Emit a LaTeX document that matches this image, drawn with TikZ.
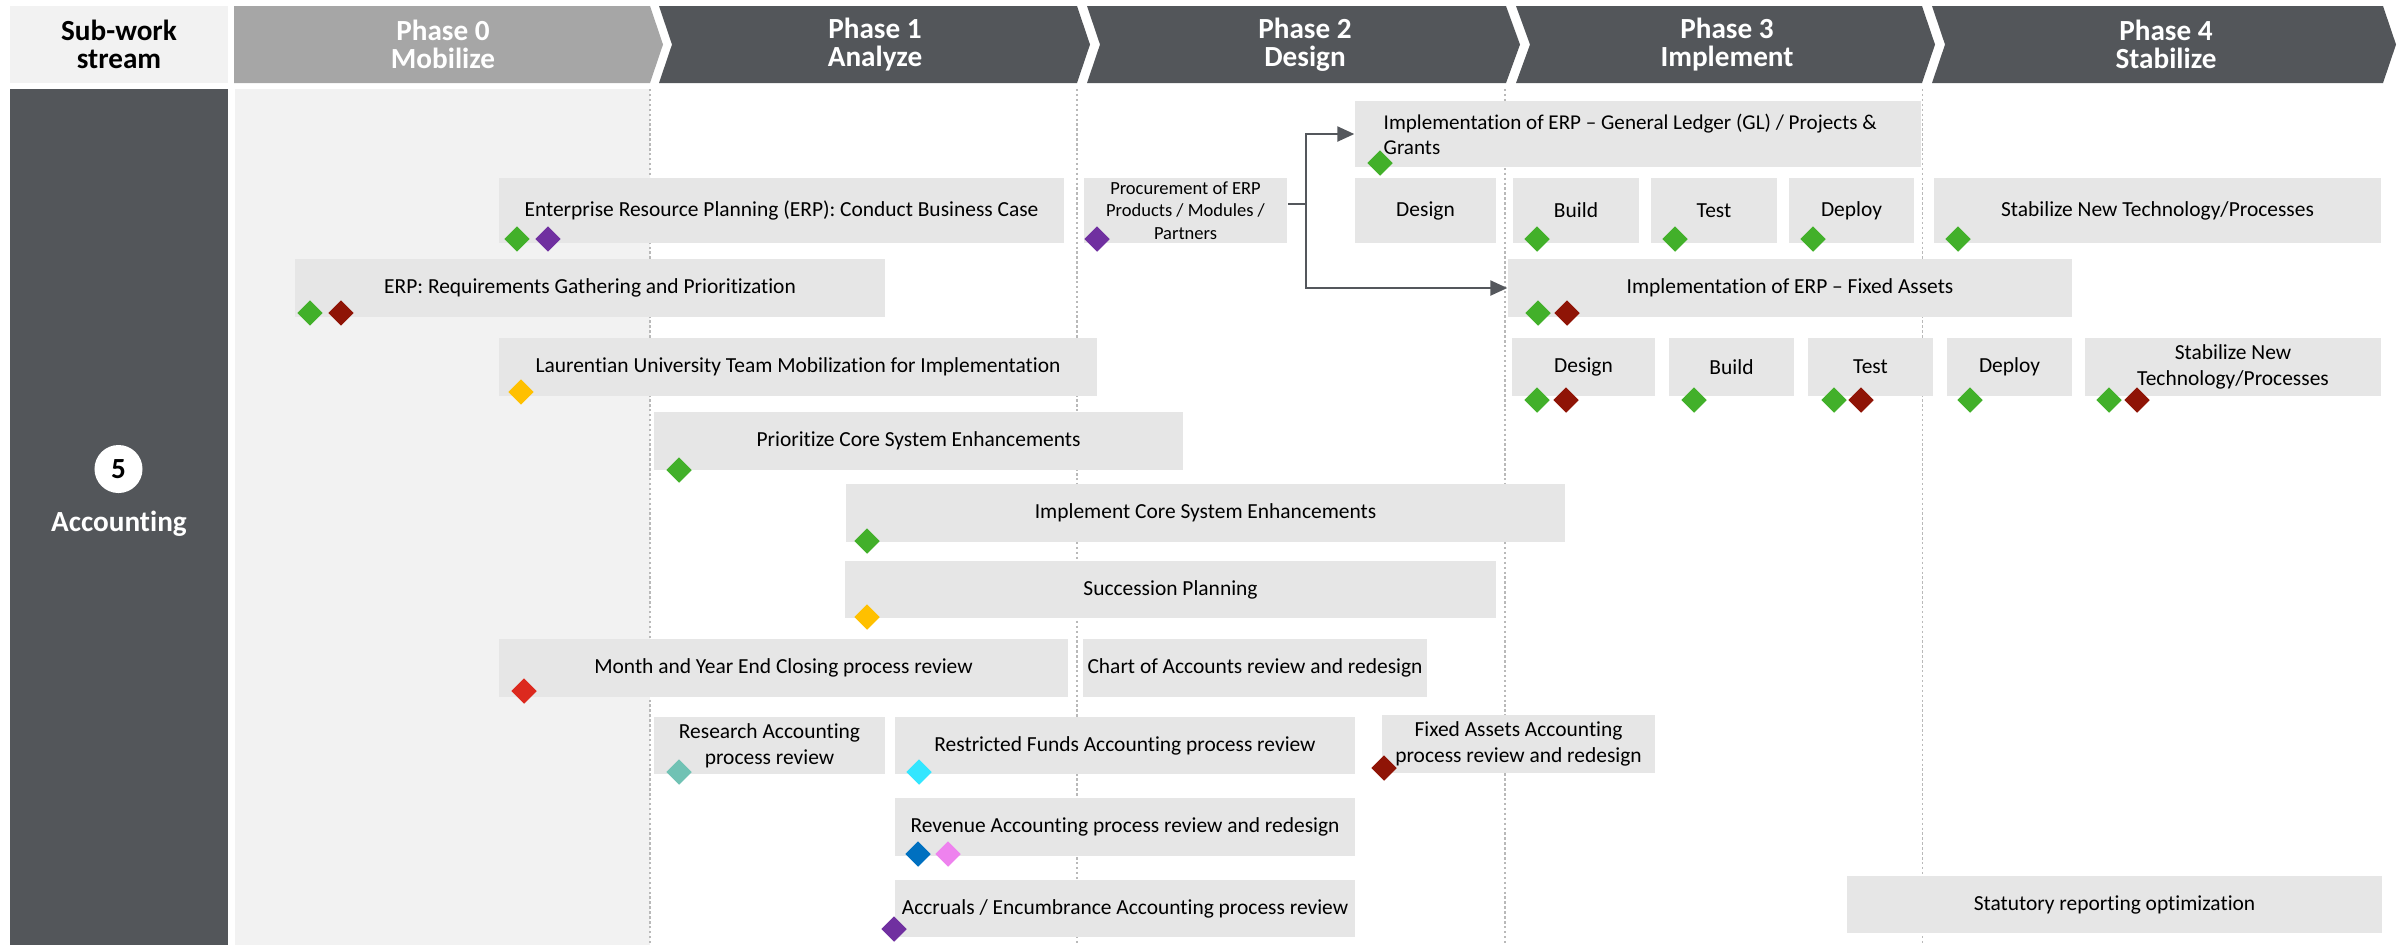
\documentclass[tikz,border=0pt]{standalone}
\usepackage{fontspec}
\setmainfont{Carlito}[Ligatures=NoCommon]
\usetikzlibrary{shapes.geometric,arrows.meta}
\definecolor{dark}{RGB}{83,86,90}
\definecolor{phasezero}{RGB}{166,166,166}
\definecolor{lightbg}{RGB}{242,242,242}
\definecolor{taskfill}{RGB}{230,230,230}
\definecolor{dgreen}{RGB}{66,176,42}
\definecolor{dpurple}{RGB}{112,48,160}
\definecolor{dmaroon}{RGB}{143,20,6}
\definecolor{dyellow}{RGB}{255,192,0}
\definecolor{dred}{RGB}{220,41,30}
\definecolor{dteal}{RGB}{112,194,180}
\definecolor{dcyan}{RGB}{51,230,255}
\definecolor{dblue}{RGB}{0,112,192}
\definecolor{dpink}{RGB}{238,130,238}
\definecolor{conncol}{RGB}{84,87,92}
\definecolor{gridcol}{RGB}{185,185,185}
\tikzset{
  task/.style={fill=taskfill, inner sep=0pt, align=center, font=\fontsize{6.1}{7.5}\selectfont, text=black},
  ms/.style={diamond, aspect=1, minimum width=0.26cm, minimum height=0.26cm, inner sep=0pt, fill=#1},
  phasetxt/.style={font=\fontsize{8.3}{8.1}\selectfont\bfseries, text=white, align=center},
  conn/.style={draw=conncol, line width=0.65pt},
  gridline/.style={draw=gridcol, line width=0.3pt, dash pattern=on 0.7pt off 0.7pt},
  tip/.style={-{Triangle[length=0.17cm,width=0.15cm]}},
}
\newcommand\taskbox[6]{\node[task, minimum width={(#4-#2)*0.01cm}, minimum height={(#5-#3)*0.01cm}] (#1) at ({(#2+#4)/2},{(#3+#5)/2}) {#6};}
\begin{document}
\begin{tikzpicture}[x=0.01cm,y=-0.01cm]
\useasboundingbox (0,0) rectangle (2397,947);
% backgrounds
\fill[dark] (10,89) rectangle (228,945);
\fill[lightbg] (235,89) rectangle (650,945);
\foreach \gx in {650,1077,1505,1922} \draw[gridline] (\gx,89) -- (\gx,945);
% header
\node[fill=lightbg, minimum width=2.18cm, minimum height=0.77cm, inner sep=0pt, font=\fontsize{8.3}{8.1}\selectfont\bfseries, align=center] (sws) at (119,44.5) {Sub-work\\stream};
\fill[phasezero] (234,6) -- (650,6) -- (663,44.5) -- (650,83) -- (234,83) -- cycle;
\fill[dark] (659,6) -- (1077,6) -- (1090,44.5) -- (1077,83) -- (659,83) -- (672,44.5) -- cycle;
\fill[dark] (1087,6) -- (1506,6) -- (1520,44.5) -- (1506,83) -- (1087,83) -- (1100,44.5) -- cycle;
\fill[dark] (1516,6) -- (1922,6) -- (1935,44.5) -- (1922,83) -- (1516,83) -- (1530,44.5) -- cycle;
\fill[dark] (1932,6) -- (2383,6) -- (2396,44.5) -- (2383,83) -- (1932,83) -- (1945,44.5) -- cycle;
\node[phasetxt] (p0) at (443,44.5) {Phase 0\\Mobilize};
\node[phasetxt] (p1) at (875,44.5) {Phase 1\\Analyze};
\node[phasetxt] (p2) at (1305,44.5) {Phase 2\\Design};
\node[phasetxt] (p3) at (1727,44.5) {Phase 3\\Implement};
\node[phasetxt] (p4) at (2166,44.5) {Phase 4\\Stabilize};
% lane label
\node[circle, fill=white, minimum size=0.48cm, inner sep=0pt, font=\fontsize{8.3}{9}\selectfont\bfseries] (num) at (118.5,469) {5};
\node[font=\fontsize{8.3}{9}\selectfont\bfseries, text=white] (acc) at (119,524) {Accounting};
% tasks
\taskbox{gl}{1355}{101}{1921}{167}{}
\node[anchor=west, align=left, inner sep=0pt, font=\fontsize{6}{7.2}\selectfont] (gltxt) at (1383,134.5) {Implementation of ERP – General Ledger (GL) / Projects \&\\Grants};
\taskbox{erp}{499}{178}{1064}{243}{Enterprise Resource Planning (ERP): Conduct Business Case}
\node[task, font=\fontsize{5.26}{6.4}\selectfont, minimum width=2.03cm, minimum height=0.65cm] (proc) at (1185.5,210.5) {Procurement of ERP\\Products / Modules /\\Partners};
\taskbox{des1}{1355}{178}{1496}{243}{Design}
\taskbox{bld1}{1513}{178}{1639}{243}{Build}
\taskbox{tst1}{1651}{178}{1777}{243}{Test}
\taskbox{dep1}{1789}{178}{1914}{243}{Deploy}
\taskbox{stb1}{1934}{178}{2381}{243}{Stabilize New Technology/Processes}
\taskbox{req}{295}{259}{885}{317}{ERP: Requirements Gathering and Prioritization}
\taskbox{fai}{1508}{259}{2072}{317}{Implementation of ERP – Fixed Assets}
\taskbox{lau}{499}{338}{1097}{396}{Laurentian University Team Mobilization for Implementation}
\taskbox{des2}{1512}{338}{1655}{396}{Design}
\taskbox{bld2}{1669}{338}{1794}{396}{Build}
\taskbox{tst2}{1808}{338}{1933}{396}{Test}
\taskbox{dep2}{1947}{338}{2072}{396}{Deploy}
\taskbox{stb2}{2085}{338}{2381}{396}{Stabilize New\\Technology/Processes}
\taskbox{pri}{654}{412}{1183}{470}{Prioritize Core System Enhancements}
\taskbox{imp}{846}{484}{1565}{542}{Implement Core System Enhancements}
\taskbox{suc}{845}{561}{1496}{618}{Succession Planning}
\taskbox{mon}{499}{639}{1068}{697}{Month and Year End Closing process review}
\taskbox{coa}{1083}{639}{1427}{697}{Chart of Accounts review and redesign}
\taskbox{res}{654}{717}{885}{774}{Research Accounting\\process review}
\taskbox{rfa}{895}{717}{1355}{774}{Restricted Funds Accounting process review}
\taskbox{fxa}{1382}{715}{1655}{773}{Fixed Assets Accounting\\process review and redesign}
\taskbox{rev}{895}{798}{1355}{856}{Revenue Accounting process review and redesign}
\taskbox{acr}{895}{880}{1355}{937}{Accruals / Encumbrance Accounting process review}
\taskbox{sta}{1847}{876}{2382}{933}{Statutory reporting optimization}
% connectors
\coordinate (jn) at (1306,204);
\draw[conn] (proc.east |- jn) -- (jn);
\draw[conn,tip] (jn) |- (gl.west);
\draw[conn,tip] (jn) |- (fai.west);
% milestones
\node[ms=dgreen] (m1) at (1380,163) {};
\node[ms=dgreen] (m2) at (517,239) {};
\node[ms=dpurple] (m3) at (548,239) {};
\node[ms=dpurple] (m4) at (1097,239) {};
\node[ms=dgreen] (m5) at (1537,239) {};
\node[ms=dgreen] (m6) at (1675,239) {};
\node[ms=dgreen] (m7) at (1813,239) {};
\node[ms=dgreen] (m8) at (1958,239) {};
\node[ms=dgreen] (m9) at (310,313) {};
\node[ms=dmaroon] (m10) at (341,313) {};
\node[ms=dgreen] (m11) at (1538,313) {};
\node[ms=dmaroon] (m12) at (1567,313) {};
\node[ms=dyellow] (m13) at (521,392) {};
\node[ms=dgreen] (m14) at (1537,400) {};
\node[ms=dmaroon] (m15) at (1566,400) {};
\node[ms=dgreen] (m16) at (1694,400) {};
\node[ms=dgreen] (m17) at (1834,400) {};
\node[ms=dmaroon] (m18) at (1861,400) {};
\node[ms=dgreen] (m19) at (1970,400) {};
\node[ms=dgreen] (m20) at (2109,400) {};
\node[ms=dmaroon] (m21) at (2137,400) {};
\node[ms=dgreen] (m22) at (679,470) {};
\node[ms=dgreen] (m23) at (867,541) {};
\node[ms=dyellow] (m24) at (867,617) {};
\node[ms=dred] (m25) at (524,691) {};
\node[ms=dteal] (m26) at (679,772) {};
\node[ms=dcyan] (m27) at (919,772) {};
\node[ms=dmaroon] (m28) at (1384,768) {};
\node[ms=dblue] (m29) at (918,854) {};
\node[ms=dpink] (m30) at (948,854) {};
\node[ms=dpurple] (m31) at (894,929) {};
\end{tikzpicture}
\end{document}
